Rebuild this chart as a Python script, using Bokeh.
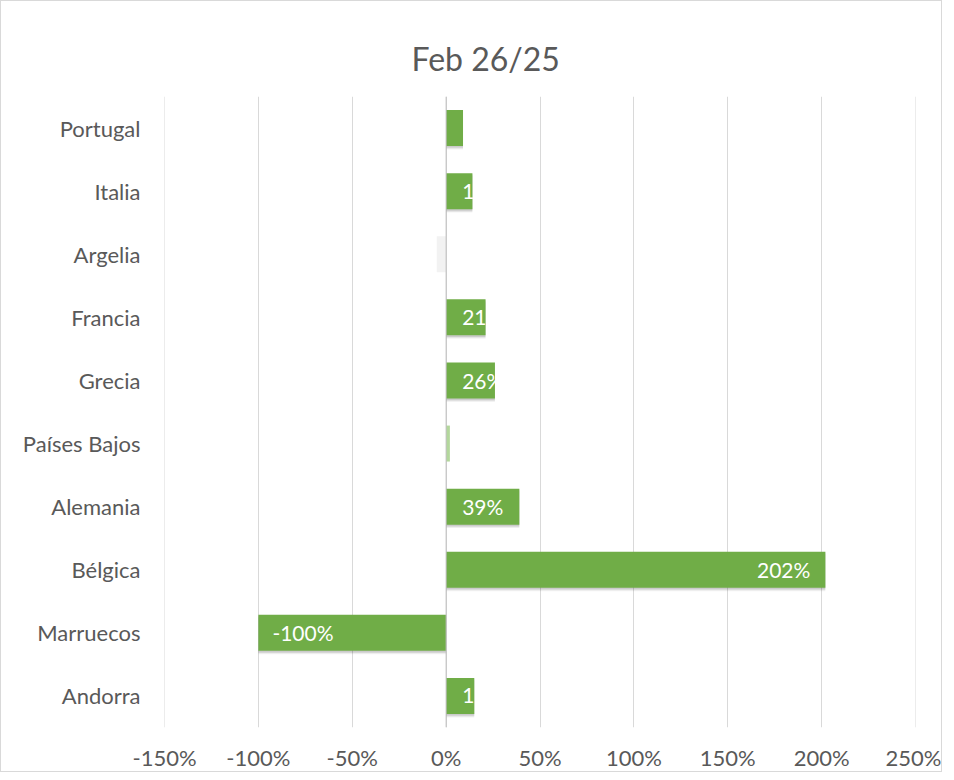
from bokeh.plotting import figure
from bokeh.models import FactorRange, ColumnDataSource, Span, PrintfTickFormatter, FixedTicker, LabelSet
from bokeh.transform import dodge
from bokeh.core.properties import value
from bokeh.embed import file_html
from bokeh.resources import INLINE

countries = ["Portugal", "Italia", "Argelia", "Francia", "Grecia", "Países Bajos",
             "Alemania", "Bélgica", "Marruecos", "Andorra"]
values = [9, 14, -5, 21, 26, 2, 39, 202, -100, 15]
# labels as visible in the chart (Excel clips them to the bar)
shown_labels = ["", "1", "", "21", "26%", "", "39%", "202%", "-100%", "1"]
bar_colors = ["#70ad47", "#70ad47", "#f2f2f2", "#70ad47", "#70ad47", "#b3d79c",
              "#70ad47", "#70ad47", "#70ad47", "#70ad47"]
x_ticks = [-150, -100, -50, 0, 50, 100, 150, 200, 250]
title_text = "Feb 26/25"

FONT = "Lato"
GRAY = "#595959"
GRID = "#d9d9d9"

p = figure(width=942, height=772, output_backend="svg", toolbar_location=None,
           y_range=FactorRange(factors=list(reversed(countries))),
           x_range=(-150, 250), title=title_text,
           min_border_left=163, min_border_right=28, min_border_top=95, min_border_bottom=43)
p.styles = {"border": "1px solid #d9d9d9"}

p.title.align = "left"
p.title.text_font = FONT
p.title.text_font_size = "32px"
p.title.text_font_style = "normal"
p.title.text_color = GRAY
p.title.offset = 247
p.title.standoff = 37

p.outline_line_color = None
p.ygrid.grid_line_color = None
p.xgrid.grid_line_color = GRID
p.xgrid.grid_line_width = 1

p.xaxis.ticker = FixedTicker(ticks=x_ticks)
p.xaxis.formatter = PrintfTickFormatter(format="%d%%")
for ax in (p.xaxis, p.yaxis):
    ax.axis_line_color = None
    ax.major_tick_line_color = None
    ax.minor_tick_line_color = None
    ax.major_label_text_font = FONT
    ax.major_label_text_font_size = "22px"
    ax.major_label_text_color = GRAY
p.xaxis.major_label_standoff = 10
p.yaxis.major_label_standoff = 18

for edge in (x_ticks[0], x_ticks[-1]):
    p.add_layout(Span(location=edge, dimension="height", line_color=GRID, line_width=1))

label_x, label_align, label_off = [], [], []
for v in values:
    if v < 0:
        label_x.append(v); label_align.append("left"); label_off.append(14)
    elif v > 100:
        label_x.append(v); label_align.append("right"); label_off.append(-15)
    else:
        label_x.append(0); label_align.append("left"); label_off.append(16)

src = ColumnDataSource(dict(country=countries, value=values, color=bar_colors,
                            label=shown_labels, lx=label_x, align=label_align, off=label_off,
                            shadow=["#000000" if c == "#70ad47" else None for c in bar_colors]))

# soft shadow
for d, a in ((-0.05, 0.05), (-0.035, 0.07), (-0.02, 0.09)):
    p.hbar(y=dodge("country", d, range=p.y_range), left=0, right="value", height=0.58,
           source=src, fill_color="shadow", fill_alpha=a, line_color=None)
p.hbar(y="country", left=0, right="value", height=0.57, source=src,
       fill_color="color", line_color=None)

p.add_layout(Span(location=0, dimension="height", line_color="#bfbfbf", line_width=1))

labels = LabelSet(x="lx", y="country", text="label", source=src, x_offset="off",
                  text_align="align", text_baseline="middle", text_color="white",
                  text_font=value(FONT), text_font_size="21px")
p.add_layout(labels)

open("out.html", "w").write(file_html(p, INLINE))
